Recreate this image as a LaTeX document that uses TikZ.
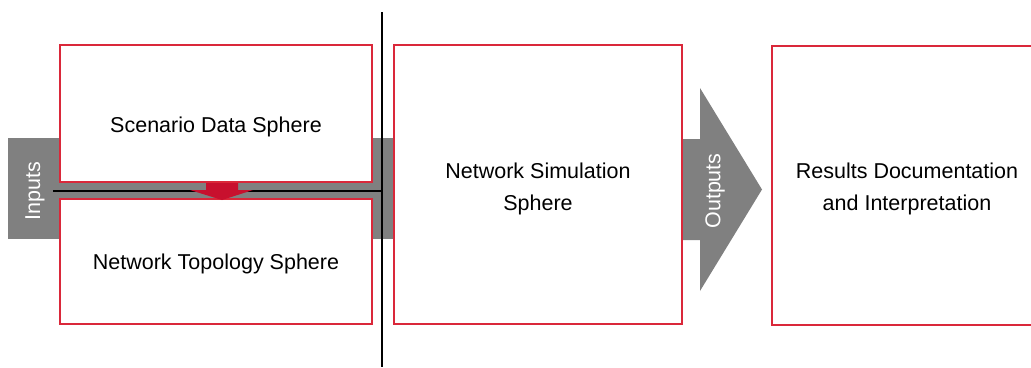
\documentclass[tikz,border=0pt]{standalone}
\usepackage{fontspec}
\setmainfont{Liberation Sans}
\definecolor{boxred}{RGB}{218,40,58}
\definecolor{arrred}{RGB}{200,16,46}
\definecolor{bandgray}{RGB}{128,128,128}
\begin{document}
\begin{tikzpicture}[x=1pt,y=-1pt,
  sphere/.style={draw=boxred,line width=1.2pt,fill=white},
  txt/.style={font=\fontsize{21.5}{32}\selectfont,align=center,text=black,inner sep=0pt},
  side/.style={font=\fontsize{21.5}{26}\selectfont,text=white,rotate=90,inner sep=0pt},
  divider/.style={draw=black,line width=2pt}]
\useasboundingbox (0,0) rectangle (1031,367);
% input band
\fill[bandgray] (8,138) rectangle (393,239);
% outputs arrow
\fill[bandgray] (680,139) -- (700,139) -- (700,88) -- (762,189.5) -- (700,291) -- (700,240) -- (680,240) -- cycle;
% boxes
\path[sphere] (60,45) rectangle (372,182);
\path[sphere] (60,199) rectangle (372,324);
\path[sphere] (394,45) rectangle (682,324);
\path[sphere] (772,46) rectangle (1034,325);
% texts
\node[txt] (scen) at (216,127) {Scenario Data Sphere};
\node[txt] (topo) at (216,264) {Network Topology Sphere};
\node[txt] (sim) at (538,188.5) {Network Simulation\\Sphere};
\node[txt] (res) at (907,188.5) {Results Documentation\\and Interpretation};
\node[side] (inp) at (35,191) {Inputs};
\node[side] (outp) at (715,191) {Outputs};
% dividers
\coordinate (hl) at (53,191);
\coordinate (vt) at (382,12);
\coordinate (vb) at (382,367);
\coordinate (vm) at (382,191);
\draw[divider] (hl) -- (vm);
\draw[divider] (vt) -- (vb);
% red arrow
\fill[arrred] (206,183) -- (238,183) -- (238,190) -- (253,190) -- (222,200) -- (190,190) -- (206,190) -- cycle;
\end{tikzpicture}
\end{document}
